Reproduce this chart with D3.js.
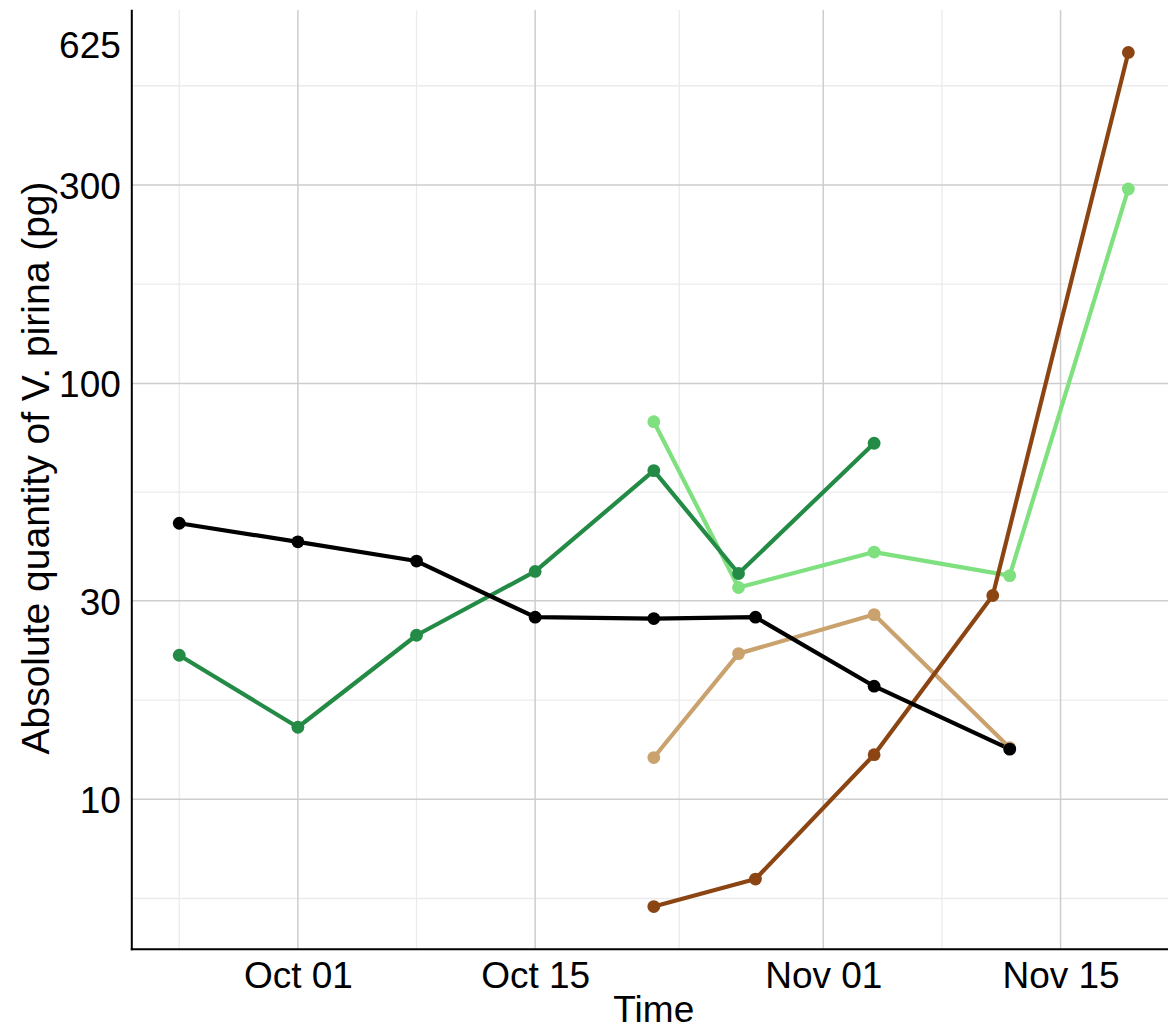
<!DOCTYPE html>
<html>
<head>
<meta charset="utf-8">
<script src="https://cdn.jsdelivr.net/npm/d3@7"></script>
<style>
  html, body { margin: 0; padding: 0; background: #fff; }
  svg { display: block; }
  text { font-family: "Liberation Sans", Arial, sans-serif; fill: #000; }
</style>
</head>
<body>
<svg id="chart" width="1168" height="1032"></svg>
<script>
// ---- data: sampling dates and absolute quantities (pg) per series ----
const blackDates = ["2021-09-24","2021-10-01","2021-10-08","2021-10-15","2021-10-22","2021-10-28","2021-11-04","2021-11-12"];
const blackValues = [46.1, 41.6, 37.4, 27.4, 27.2, 27.4, 18.7, 13.2];

const darkGreenDates = ["2021-09-24","2021-10-01","2021-10-08","2021-10-15","2021-10-22","2021-10-27","2021-11-04"];
const darkGreenValues = [22.2, 14.9, 24.8, 35.3, 61.7, 34.9, 71.8];

const lightGreenDates = ["2021-10-22","2021-10-27","2021-11-04","2021-11-12","2021-11-19"];
const lightGreenValues = [80.9, 32.3, 39.3, 34.5, 293.4];

const tanDates = ["2021-10-22","2021-10-27","2021-11-04","2021-11-12"];
const tanValues = [12.6, 22.4, 27.8, 13.3];

const brownDates = ["2021-10-22","2021-10-28","2021-11-04","2021-11-11","2021-11-19"];
const brownValues = [5.52, 6.43, 12.8, 30.9, 625];

// axis breaks
const yTickValues = [10, 30, 100, 300, 625];
const yGridValues = [10, 30, 100, 300];
const xTickDates = ["2021-10-01","2021-10-15","2021-11-01","2021-11-15"];

const xTitle = "Time";
const yTitle = "Absolute quantity of V. pirina (pg)";

// ---- series table (drawing order) ----
const parse = d3.utcParse("%Y-%m-%d");
const series = [
  { color: "#7ee07e", dates: lightGreenDates, values: lightGreenValues },
  { color: "#238b45", dates: darkGreenDates,  values: darkGreenValues },
  { color: "#c9a26e", dates: tanDates,        values: tanValues },
  { color: "#8b4513", dates: brownDates,      values: brownValues },
  { color: "#000000", dates: blackDates,      values: blackValues }
].map(s => ({ color: s.color, points: s.dates.map((d, i) => ({ date: parse(d), value: s.values[i] })) }));

const allPts = series.flatMap(s => s.points);

// ---- layout ----
const panel = { left: 131.8, right: 1175.8, top: 9.7, bottom: 949.3 };

const svg = d3.select("#chart");

// x: time scale with 5% expansion on each side
const xExt = d3.extent(allPts, d => d.date);
const xPad = (xExt[1] - xExt[0]) * 0.05;
const x = d3.scaleUtc()
  .domain([new Date(+xExt[0] - xPad), new Date(+xExt[1] + xPad)])
  .range([panel.left, panel.right]);

// y: log scale with 5% expansion in log space
const yExt = d3.extent(allPts, d => Math.log10(d.value));
const yPad = (yExt[1] - yExt[0]) * 0.05;
const y = d3.scaleLog()
  .domain([Math.pow(10, yExt[0] - yPad), Math.pow(10, yExt[1] + yPad)])
  .range([panel.bottom, panel.top]);

// minor breaks: midpoints (in transformed space) between consecutive major breaks, extended one step past each end
function minorBreaks(major, fwd, inv) {
  const t = major.map(fwd);
  const ext = [t[0] - (t[1] - t[0]), ...t, t[t.length - 1] + (t[t.length - 1] - t[t.length - 2])];
  const out = [];
  for (let i = 0; i < ext.length - 1; i++) out.push(inv((ext[i] + ext[i + 1]) / 2));
  return out;
}
const yMinor = minorBreaks(yGridValues, Math.log10, v => Math.pow(10, v));
const xMajor = xTickDates.map(parse);
const xMinor = minorBreaks(xMajor, d => +d, v => new Date(v));

svg.append("defs").append("clipPath").attr("id", "panel-clip")
  .append("rect")
  .attr("x", panel.left).attr("y", panel.top)
  .attr("width", panel.right - panel.left).attr("height", panel.bottom - panel.top);

const grid = svg.append("g").attr("clip-path", "url(#panel-clip)");

// minor grid
grid.selectAll("line.ymin").data(yMinor).join("line")
  .attr("x1", panel.left).attr("x2", panel.right)
  .attr("y1", d => y(d)).attr("y2", d => y(d))
  .attr("stroke", "#ebebeb").attr("stroke-width", 1.3);
grid.selectAll("line.xmin").data(xMinor).join("line")
  .attr("y1", panel.top).attr("y2", panel.bottom)
  .attr("x1", d => x(d)).attr("x2", d => x(d))
  .attr("stroke", "#ebebeb").attr("stroke-width", 1.3);

// major grid
grid.selectAll("line.ymaj").data(yGridValues).join("line")
  .attr("x1", panel.left).attr("x2", panel.right)
  .attr("y1", d => y(d)).attr("y2", d => y(d))
  .attr("stroke", "#cdcdcd").attr("stroke-width", 1.5);
grid.selectAll("line.xmaj").data(xMajor).join("line")
  .attr("y1", panel.top).attr("y2", panel.bottom)
  .attr("x1", d => x(d)).attr("x2", d => x(d))
  .attr("stroke", "#cdcdcd").attr("stroke-width", 1.5);

// ---- series lines, then points ----
const line = d3.line().x(d => x(d.date)).y(d => y(d.value));
const marks = svg.append("g").attr("clip-path", "url(#panel-clip)");

marks.selectAll("path.series").data(series).join("path")
  .attr("class", "series")
  .attr("d", s => line(s.points))
  .attr("fill", "none")
  .attr("stroke", s => s.color)
  .attr("stroke-width", 4.2)
  .attr("stroke-linejoin", "round");

series.forEach(s => {
  marks.append("g").selectAll("circle").data(s.points).join("circle")
    .attr("cx", d => x(d.date))
    .attr("cy", d => y(d.value))
    .attr("r", 6.4)
    .attr("fill", s.color);
});

// ---- axes ----
const xAxis = d3.axisBottom(x)
  .tickValues(xMajor)
  .tickFormat(d3.utcFormat("%b %d"))
  .tickSize(0).tickPadding(10);
const gx = svg.append("g").attr("transform", `translate(0,${panel.bottom})`).call(xAxis);
gx.select(".domain").remove();
gx.selectAll("text").attr("font-size", 37).attr("dy", "0.71em").attr("y", 12);

const yAxis = d3.axisLeft(y)
  .tickValues(yTickValues)
  .tickFormat(d3.format("d"))
  .tickSize(0).tickPadding(11);
const gy = svg.append("g").attr("transform", `translate(${panel.left},0)`).call(yAxis);
gy.select(".domain").remove();
gy.selectAll("text").attr("font-size", 37)
  .attr("dy", d => d === 625 ? "0.14em" : "0.36em");

// axis lines
svg.append("line")
  .attr("x1", panel.left).attr("x2", panel.left)
  .attr("y1", panel.top).attr("y2", panel.bottom + 1)
  .attr("stroke", "#000").attr("stroke-width", 2);
svg.append("line")
  .attr("x1", panel.left - 1).attr("x2", panel.right)
  .attr("y1", panel.bottom).attr("y2", panel.bottom)
  .attr("stroke", "#000").attr("stroke-width", 2);

// ---- titles ----
svg.append("text")
  .attr("x", (panel.left + panel.right) / 2)
  .attr("y", 1022)
  .attr("text-anchor", "middle")
  .attr("font-size", 37)
  .text(xTitle);

svg.append("text")
  .attr("transform", `translate(49,468) rotate(-90)`)
  .attr("text-anchor", "middle")
  .attr("font-size", 39)
  .text(yTitle);
</script>
</body>
</html>
